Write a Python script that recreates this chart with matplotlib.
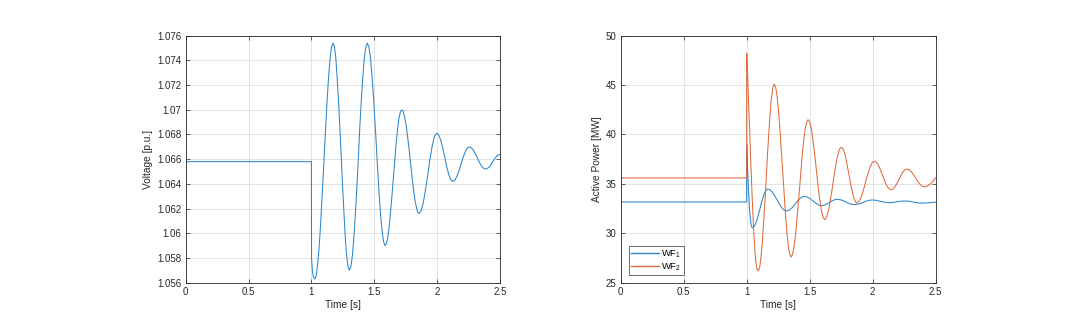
import matplotlib
matplotlib.use("Agg")
import matplotlib.pyplot as plt
from matplotlib.ticker import FuncFormatter

plt.rcParams['font.family'] = ['Liberation Sans', 'DejaVu Sans']
plt.rcParams['mathtext.fontset'] = 'custom'
plt.rcParams['mathtext.rm'] = 'Liberation Sans'
plt.rcParams['mathtext.it'] = 'Liberation Sans'

# voltage at the bus
t_volt = [0, 1.0, 1.001, 1.008, 1.015, 1.027,
          1.039, 1.051, 1.063, 1.075, 1.087, 1.100, 1.112, 1.124, 1.136, 1.148, 1.160, 1.172,
          1.183, 1.194, 1.204, 1.215, 1.226, 1.237, 1.248, 1.259, 1.269, 1.280, 1.291, 1.302,
          1.314, 1.326, 1.338, 1.350, 1.362, 1.374, 1.385, 1.397, 1.409, 1.421, 1.433, 1.445,
          1.457, 1.469, 1.480, 1.492, 1.504, 1.516, 1.527, 1.539, 1.551, 1.563, 1.574, 1.586,
          1.597, 1.608, 1.619, 1.630, 1.641, 1.652, 1.663, 1.674, 1.685, 1.696, 1.707, 1.718,
          1.730, 1.741, 1.753, 1.764, 1.776, 1.787, 1.799, 1.810, 1.822, 1.833, 1.845, 1.856,
          1.874, 1.891, 1.909, 1.927, 1.944, 1.962, 1.979, 1.997,
          2.013, 2.029, 2.045, 2.061, 2.076, 2.092, 2.108, 2.124,
          2.141, 2.157, 2.174, 2.190, 2.206, 2.223, 2.239, 2.256,
          2.272, 2.288, 2.304, 2.320, 2.336, 2.352, 2.368, 2.384,
          2.400, 2.417, 2.433, 2.450, 2.467, 2.483, 2.500]
voltage = [1.0658, 1.0658, 1.0580, 1.0569, 1.0565, 1.0563,
           1.0566, 1.0576, 1.0591, 1.0611, 1.0634, 1.0659, 1.0683, 1.0706, 1.0726, 1.0741, 1.0751, 1.0754,
           1.0751, 1.0742, 1.0727, 1.0708, 1.0686, 1.0662, 1.0638, 1.0616, 1.0597, 1.0582, 1.0573, 1.0570,
           1.0573, 1.0582, 1.0597, 1.0616, 1.0638, 1.0662, 1.0686, 1.0708, 1.0727, 1.0742, 1.0751, 1.0754,
           1.0751, 1.0743, 1.0730, 1.0713, 1.0693, 1.0672, 1.0651, 1.0631, 1.0614, 1.0601, 1.0593, 1.0590,
           1.0592, 1.0597, 1.0606, 1.0618, 1.0631, 1.0645, 1.0659, 1.0673, 1.0684, 1.0693, 1.0698, 1.0700,
           1.0699, 1.0694, 1.0688, 1.0679, 1.0669, 1.0658, 1.0647, 1.0637, 1.0628, 1.0622, 1.0617, 1.0616,
           1.06185, 1.06255, 1.06361, 1.06485, 1.06609, 1.06715, 1.06785, 1.0681,
           1.06795, 1.06753, 1.0669, 1.06615, 1.0654, 1.06477, 1.06435, 1.0642,
           1.06431, 1.06461, 1.06507, 1.0656, 1.06613, 1.06659, 1.06689, 1.0670,
           1.06693, 1.06674, 1.06644, 1.0661, 1.06576, 1.06546, 1.06527, 1.0652,
           1.06525, 1.06540, 1.06565, 1.06593, 1.06617, 1.06632, 1.0664]

# active power of wind farm 1
t_wf1 = [0, 1.0, 1.0005, 1.008, 1.016, 1.025, 1.035, 1.040, 1.045,
         1.060, 1.076, 1.091, 1.106, 1.121, 1.137, 1.152, 1.167,
         1.186, 1.204, 1.223, 1.242, 1.261, 1.279, 1.298, 1.317,
         1.340, 1.364, 1.387, 1.410, 1.434, 1.457,
         1.480, 1.503, 1.526, 1.549, 1.572, 1.595,
         1.616, 1.636, 1.657, 1.678, 1.698, 1.719,
         1.742, 1.764, 1.787, 1.809, 1.832, 1.854,
         1.878, 1.902, 1.926, 1.949, 1.973, 1.997,
         2.019, 2.040, 2.062, 2.084, 2.105, 2.127,
         2.149, 2.170, 2.192, 2.213, 2.235, 2.256,
         2.278, 2.301, 2.323, 2.345, 2.368, 2.390,
         2.427, 2.463, 2.500]
p_wf1 = [33.17, 33.17, 39.0, 36.5, 34.0, 32.0, 30.9, 30.65, 30.55,
         30.70, 31.12, 31.76, 32.52, 33.27, 33.91, 34.33, 34.48,
         34.40, 34.16, 33.79, 33.37, 32.95, 32.58, 32.34, 32.26,
         32.36, 32.63, 33.00, 33.37, 33.64, 33.74,
         33.68, 33.51, 33.27, 33.04, 32.86, 32.80,
         32.84, 32.96, 33.12, 33.28, 33.40, 33.44,
         33.40, 33.31, 33.17, 33.04, 32.94, 32.90,
         32.93, 33.02, 33.14, 33.25, 33.34, 33.37,
         33.35, 33.30, 33.24, 33.17, 33.12, 33.10,
         33.11, 33.14, 33.19, 33.23, 33.26, 33.27,
         33.26, 33.22, 33.16, 33.11, 33.06, 33.05,
         33.07, 33.11, 33.15]

# active power of wind farm 2
t_wf2 = [0, 1.0, 1.0005, 1.006, 1.012, 1.018, 1.025, 1.031, 1.038, 1.045,
         1.052, 1.059, 1.066, 1.072, 1.079, 1.085, 1.092,
         1.103, 1.113, 1.124, 1.134, 1.145, 1.156, 1.166, 1.177, 1.187, 1.198, 1.208, 1.219,
         1.230, 1.241, 1.252, 1.263, 1.274, 1.286, 1.297, 1.308, 1.319, 1.330, 1.341, 1.352,
         1.363, 1.375, 1.386, 1.397, 1.408, 1.420, 1.431, 1.442, 1.453, 1.465, 1.476, 1.487,
         1.498, 1.509, 1.520, 1.531, 1.542, 1.553, 1.564, 1.575, 1.586, 1.597, 1.608, 1.619,
         1.630, 1.641, 1.652, 1.663, 1.674, 1.685, 1.696, 1.707, 1.718, 1.729, 1.740, 1.751,
         1.761, 1.772, 1.782, 1.792, 1.802, 1.813, 1.823, 1.834, 1.844, 1.854, 1.865, 1.875,
         1.892, 1.910, 1.927, 1.944, 1.961, 1.979, 1.996, 2.013,
         2.030, 2.046, 2.063, 2.079, 2.096, 2.112, 2.129, 2.145,
         2.161, 2.177, 2.193, 2.209, 2.224, 2.240, 2.256, 2.272,
         2.289, 2.307, 2.324, 2.341, 2.358, 2.376, 2.393, 2.410,
         2.425, 2.440, 2.455, 2.470, 2.485, 2.500]
p_wf2 = [35.6, 35.6, 48.2, 46.5, 44.5, 42.3, 40.0, 37.7, 35.5, 33.3,
         31.3, 29.6, 28.1, 27.2, 26.6, 26.3, 26.2,
         26.52, 27.47, 28.97, 30.93, 33.20, 35.65, 38.10, 40.38, 42.33, 43.83, 44.78, 45.1,
         44.80, 43.93, 42.54, 40.72, 38.61, 36.35, 34.09, 31.97, 30.16, 28.77, 27.90, 27.6,
         27.84, 28.53, 29.63, 31.08, 32.75, 34.55, 36.35, 38.03, 39.46, 40.57, 41.26, 41.5,
         41.33, 40.82, 40.02, 38.97, 37.76, 36.45, 35.14, 33.92, 32.88, 32.08, 31.57, 31.4,
         31.52, 31.89, 32.47, 33.23, 34.11, 35.05, 35.99, 36.88, 37.63, 38.21, 38.58, 38.7,
         38.60, 38.32, 37.88, 37.29, 36.61, 35.88, 35.16, 34.48, 33.89, 33.45, 33.17, 33.07,
         33.23, 33.69, 34.38, 35.19, 35.99, 36.68, 37.14, 37.3,
         37.19, 36.88, 36.40, 35.85, 35.30, 34.82, 34.51, 34.4,
         34.48, 34.71, 35.05, 35.45, 35.85, 36.19, 36.42, 36.5,
         36.43, 36.24, 35.94, 35.6, 35.26, 34.96, 34.77, 34.7,
         34.73, 34.82, 34.97, 35.15, 35.37, 35.6]

x_ticks = [0, 0.5, 1, 1.5, 2, 2.5]
volt_ticks = [1.056, 1.058, 1.060, 1.062, 1.064, 1.066, 1.068, 1.070, 1.072, 1.074, 1.076]
power_ticks = [25, 30, 35, 40, 45, 50]

BLUE = '#2a86cc'
ORANGE = '#e0693a'
DARK = '#262626'


def style_axes(ax):
    ax.grid(True, color='#e3e3e3', linewidth=0.7)
    ax.set_axisbelow(True)
    for s in ax.spines.values():
        s.set_color(DARK)
        s.set_linewidth(0.6)
    ax.tick_params(direction='in', length=3, width=0.5, colors=DARK,
                   labelsize=7, top=True, right=True, pad=3)
    ax.xaxis.set_major_formatter(FuncFormatter(lambda v, p: '%g' % v))
    ax.yaxis.set_major_formatter(FuncFormatter(lambda v, p: '%g' % round(v, 4)))


fig = plt.figure(figsize=(10.91, 3.23), dpi=100)
ax1 = fig.add_axes([0.1702, 0.1248, 0.2881, 0.7647])
ax2 = fig.add_axes([0.5689, 0.1248, 0.2887, 0.7647])

ax1.plot(t_volt, voltage, color=BLUE, linewidth=0.75)
ax1.set_xlim(0, 2.5)
ax1.set_ylim(1.056, 1.076)
ax1.set_xticks(x_ticks)
ax1.set_yticks(volt_ticks)
style_axes(ax1)
ax1.set_xlabel('Time [s]', fontsize=7.3, color=DARK, labelpad=2)
ax1.set_ylabel('Voltage [p.u.]', fontsize=7.3, color=DARK, labelpad=3)

ax2.plot(t_wf1, p_wf1, color=BLUE, linewidth=0.75, label='WF$_1$')
ax2.plot(t_wf2, p_wf2, color=ORANGE, linewidth=0.75, label='WF$_2$')
ax2.set_xlim(0, 2.5)
ax2.set_ylim(25, 50)
ax2.set_xticks(x_ticks)
ax2.set_yticks(power_ticks)
style_axes(ax2)
ax2.set_xlabel('Time [s]', fontsize=7.3, color=DARK, labelpad=2)
ax2.set_ylabel('Active Power [MW]', fontsize=7.3, color=DARK, labelpad=3)

leg = ax2.legend(loc='lower left', fontsize=6.8, frameon=True, fancybox=False,
                 handlelength=2.9, handletextpad=0.3, borderpad=0.25,
                 labelspacing=0.15, borderaxespad=0,
                 bbox_to_anchor=(0.026, 0.031))
leg.get_frame().set_edgecolor(DARK)
leg.get_frame().set_linewidth(0.6)
for line in leg.get_lines():
    line.set_linewidth(1.0)

fig.savefig('out.png', dpi=100)
